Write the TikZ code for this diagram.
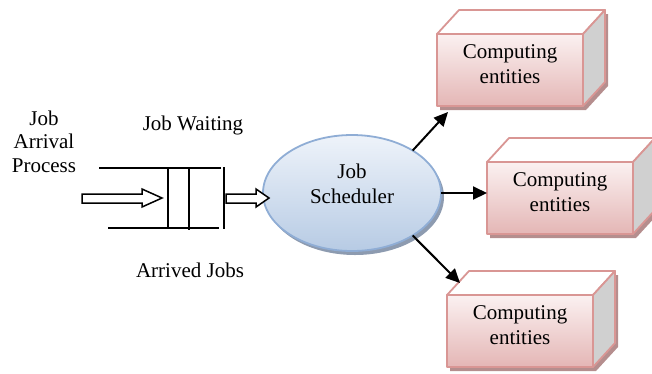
\documentclass[tikz,border=0pt]{standalone}
\usepackage{fontspec}
\setmainfont{Liberation Serif}
\usetikzlibrary{shapes.geometric,arrows.meta}

\definecolor{boxedge}{HTML}{D99694}
\definecolor{boxtop}{HTML}{FBF1F1}
\definecolor{boxbot}{HTML}{E4B6B5}
\definecolor{boxside}{HTML}{D0D0D0}
\definecolor{boxshade}{HTML}{B58E8E}
\definecolor{elledge}{HTML}{8FADD5}
\definecolor{elltop}{HTML}{EEF3FA}
\definecolor{ellbot}{HTML}{B7CBE4}
\definecolor{ellshade}{HTML}{8D9BB0}

\tikzset{
  lbl/.style={font=\fontsize{21}{23.5}\selectfont, align=center, inner sep=0pt},
  frontface/.style={rectangle, draw=boxedge, line width=1.8pt, line join=round,
    top color=boxtop, bottom color=boxbot, minimum width=146pt, minimum height=72pt,
    inner sep=0pt, outer sep=0pt, font=\fontsize{21}{24.5}\selectfont, align=center,
    text depth=12pt},
  facepart/.style={draw=boxedge, line width=1.8pt, line join=round},
  conn/.style={line width=2pt, -{Triangle[length=14pt,width=13pt]}},
  qline/.style={line width=1.5pt},
  hollow/.style={draw, line width=1.5pt, fill=white, line join=miter},
}

% A 3-D "Computing entities" block: #1 name, (#2,#3) top-left corner of its front face
\newcommand\compbox[3]{%
  \begin{scope}[shift={(#2,#3)}]
    \fill[boxshade] (3,4) -- (25,-20) -- (171,-20) -- (171,52) -- (149,76) -- (3,76) -- cycle;
    \node[frontface] (#1) at (73,36) {Computing\\entities};
    \filldraw[facepart, fill=white] (#1.north west) -- ++(22,-24) -- ++(146,0)
      -- (#1.north east) -- cycle;
    \filldraw[facepart, fill=boxside] (#1.north east) -- ++(22,-24) -- ++(0,72)
      -- (#1.south east) -- cycle;
  \end{scope}}

\begin{document}
\begin{tikzpicture}[x=1pt, y=-1pt]
  \useasboundingbox (0,0) rectangle (652,373);

  % scheduler
  \fill[ellshade] (355,197) ellipse [x radius=89, y radius=58];
  \node[ellipse, draw=elledge, line width=1.8pt, top color=elltop, bottom color=ellbot,
    minimum width=178pt, minimum height=116pt, inner sep=0pt, outer sep=0pt,
    font=\fontsize{21}{25}\selectfont, align=center, text depth=19pt]
    (sched) at (352,193) {Job\\Scheduler};

  % computing entities
  \compbox{ce1}{437}{34}
  \compbox{ce2}{487}{162}
  \compbox{ce3}{447}{295}

  % dispatch connectors
  \draw[conn] (sched.35) -- ([shift={(11,6)}]ce1.south west);
  \draw[conn] (sched.east) -- (sched.east -| ce2.west);
  \draw[conn] (sched.-35) -- ([shift={(13,-12)}]ce3.north west);

  % waiting queue
  \draw[qline] (99,168) -- (221,168);
  \draw[qline] (108,228) -- (219,228);
  \draw[qline] (168,168) -- (168,228);
  \draw[qline] (189,168) -- (189,230);
  \draw[qline] (224,167) -- (224,229);

  % hollow flow arrows
  \draw[hollow] (82,194) -- (142,194) -- (142,189) -- (162,198) -- (142,207)
    -- (142,203) -- (82,203) -- cycle;
  \draw[hollow] (226,194) -- (256,194) -- (256,189) -- (269,198) -- (256,207)
    -- (256,203) -- (226,203) -- cycle;

  % labels (multi-line nodes sit on the baseline of their last line)
  \node[lbl, anchor=base] (arrival) at (44,172) {Job\\Arrival\\Process};
  \node[lbl, anchor=base] (waiting) at (193,130) {Job Waiting};
  \node[lbl, anchor=base] (arrived) at (190,277) {Arrived Jobs};
\end{tikzpicture}
\end{document}
